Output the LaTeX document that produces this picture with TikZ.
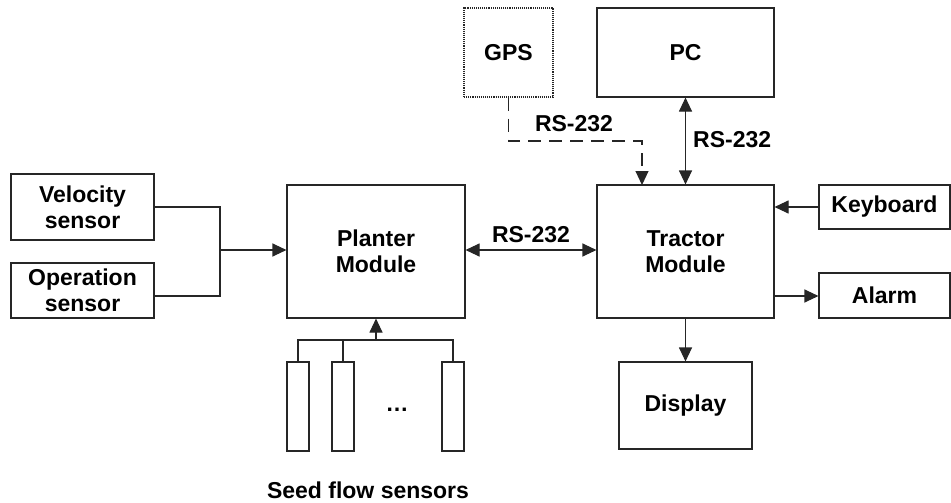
\documentclass[tikz,border=0pt]{standalone}
\usepackage{fontspec}
\setmainfont{Liberation Sans}
\usetikzlibrary{arrows.meta}
\begin{document}
\begin{tikzpicture}[x=1pt,y=-1pt,
  box/.style={draw=black!85, line width=1.1pt, fill=white, align=center, inner sep=0pt,
    font=\bfseries\fontsize{23}{26}\selectfont},
  conn/.style={draw=black!85, line width=1.1pt},
  arr/.style={conn, -{Triangle[length=14pt,width=13pt]}},
  darr/.style={conn, {Triangle[length=14pt,width=13pt]}-{Triangle[length=14pt,width=13pt]}},
  lbl/.style={font=\bfseries\fontsize{23}{26}\selectfont, inner sep=0pt}]
\useasboundingbox (0,0) rectangle (951,503);
% boxes
\node[box, minimum width=143pt, minimum height=66pt] (vel) at (82.5,207) {Velocity\\sensor};
\node[box, minimum width=143pt, minimum height=55pt] (op) at (82.5,290.5) {Operation\\sensor};
\node[box, minimum width=178pt, minimum height=133pt] (pl) at (376,251.5) {Planter\\Module};
\node[box, minimum width=177pt, minimum height=133pt] (tr) at (685.5,251.5) {Tractor\\Module};
\node[box, densely dotted, minimum width=89pt, minimum height=89pt] (gps) at (508.5,52.5) {GPS};
\node[box, minimum width=177pt, minimum height=89pt] (pc) at (685.5,52.5) {PC};
\node[box, minimum width=131pt, minimum height=44pt] (kb) at (884.5,207) {Keyboard};
\node[box, minimum width=131pt, minimum height=45pt] (al) at (884.5,295.5) {Alarm};
\node[box, minimum width=133pt, minimum height=87pt] (disp) at (685.5,405.5) {Display};
\node[box, minimum width=22pt, minimum height=89pt] (s1) at (298,406.5) {};
\node[box, minimum width=22pt, minimum height=89pt] (s2) at (343,406.5) {};
\node[box, minimum width=22pt, minimum height=89pt] (s3) at (453,406.5) {};
\node[lbl] (dots) at (397,410) {\dots};
\node[lbl] (seedlbl) at (368,490) {Seed flow sensors};
% sensor junction
\coordinate (j) at (220,250);
\draw[conn] (vel.east) -| (j);
\draw[conn] (op.east |- 0,296) -| (j);
\draw[arr] (j) -- (j -| pl.west);
% planter <-> tractor
\draw[darr] (pl.east |- 0,250) -- (tr.west |- 0,250);
\node[lbl] (rs1) at (531,235) {RS-232};
% gps
\coordinate (gb) at (508.5,141);
\coordinate (gt) at (642,185);
\draw[arr, dash pattern=on 13pt off 8pt] (gps.south) -- (gb) -| (gt);
\node[lbl] (rs2) at (574,124) {RS-232};
% pc
\draw[darr] (pc.south) -- (tr.north);
\node[lbl, anchor=west] (rs3) at (693,140) {RS-232};
% keyboard, alarm, display
\draw[arr] (kb.west) -- (tr.east |- kb.west);
\draw[arr] (tr.east |- 0,296) -- (al.west |- 0,296);
\draw[arr] (tr.south) -- (disp.north);
% seed flow sensors bus
\coordinate (b1) at (298,340);
\coordinate (b3) at (453,340);
\coordinate (bm) at (376,340);
\draw[conn] (s1.north) -- (b1) -- (b3) -- (s3.north);
\draw[conn] (s2.north) -- (s2.north |- b1);
\draw[arr] (bm) -- (pl.south -| bm);
\end{tikzpicture}
\end{document}
